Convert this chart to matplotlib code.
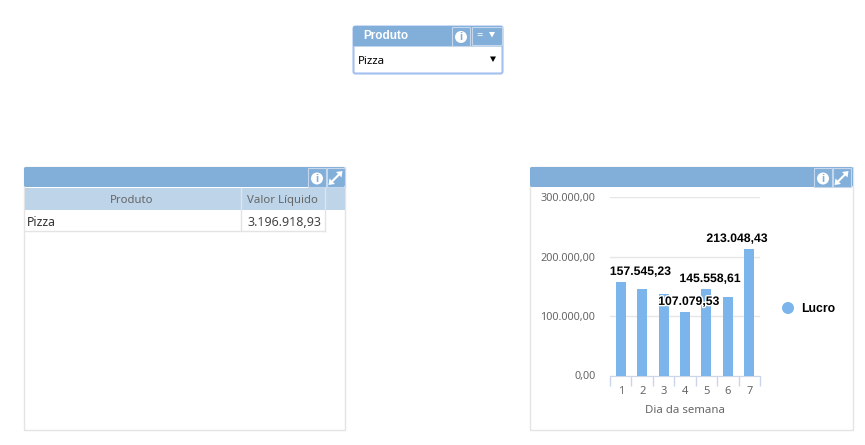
import matplotlib
matplotlib.use("Agg")
import matplotlib.pyplot as plt
import matplotlib.patheffects as pe
from matplotlib.patches import Rectangle, FancyBboxPatch, Circle, Polygon

plt.rcParams['font.family'] = ['Noto Sans', 'DejaVu Sans']
BOLD = ['Liberation Sans', 'DejaVu Sans']

W, H = 865, 445

# chart data
dias = ["1", "2", "3", "4", "5", "6", "7"]
lucro = [157545.23, 146000, 137500, 107079.53, 145558.61, 132500, 213048.43]
rotulos = ["157.545,23", None, None, "107.079,53", "145.558,61", None, "213.048,43"]
y_ticks = [0, 100000, 200000, 300000]
y_labels = ["0,00", "100.000,00", "200.000,00", "300.000,00"]

# table / filter text
tabela_cols = ["Produto", "Valor Líquido"]
tabela_linha = ["Pizza", "3.196.918,93"]
filtro_titulo = "Produto"
filtro_valor = "Pizza"
serie = "Lucro"

AZUL = "#82aeda"
AZUL_TAB = "#bdd4e9"
BARRA = "#7cb5ec"
BORDA = "#e4e4e4"
CINZA = "#666666"

fig = plt.figure(figsize=(W / 100, H / 100), dpi=100, facecolor="white")

# page layer in pixel coords
bg = fig.add_axes([0, 0, 1, 1])
bg.set_xlim(0, W)
bg.set_ylim(H, 0)
bg.axis("off")


def info_btn(x, y):
    bg.add_patch(Rectangle((x, y), 18, 19, fc="none", ec="#c4d7ec", lw=0.8))
    bg.add_patch(Circle((x + 9, y + 10.5), 6, fc="white", ec="none"))
    bg.text(x + 9, y + 10.5, "i", color=AZUL, fontsize=8, fontweight="bold",
            family=BOLD, ha="center", va="center")


def expand_btn(x, y):
    bg.add_patch(Rectangle((x, y), 18, 19, fc="none", ec="#c4d7ec", lw=0.8))
    bg.plot([x + 6, x + 12], [y + 13, y + 7], color="white", lw=1.5)
    bg.add_patch(Polygon([[x + 16, y + 3], [x + 9.5, y + 4], [x + 15, y + 9.5]], fc="white", ec="none"))
    bg.add_patch(Polygon([[x + 2, y + 17], [x + 3, y + 10.5], [x + 8.5, y + 16]], fc="white", ec="none"))


def painel(x0, x1, bx):
    bg.add_patch(Rectangle((x0, 167), x1 - x0, 263, fc="white", ec=BORDA, lw=1))
    bg.add_patch(FancyBboxPatch((x0 + 1, 168), x1 - x0 - 2, 18,
                                boxstyle="round,pad=1,rounding_size=2",
                                fc=AZUL, ec="none"))
    info_btn(bx, 168)
    expand_btn(bx + 18.5, 168)


painel(24, 345, 308)
painel(530, 853, 814)

# table
bg.add_patch(Rectangle((25, 188), 320, 22, fc=AZUL_TAB, ec="none"))
bg.plot([240.5, 240.5], [188, 231], color="#e4e4e4", lw=1)
bg.plot([324.5, 324.5], [188, 231], color="#e4e4e4", lw=1)
bg.plot([25, 324.5], [231, 231], color="#e4e4e4", lw=1)
bg.text(131.5, 200.5, tabela_cols[0], color=CINZA, fontsize=8.2, ha="center", va="center")
bg.text(282, 200.5, tabela_cols[1], color=CINZA, fontsize=8.2, ha="center", va="center")
bg.text(27, 222, tabela_linha[0], color="#333333", fontsize=8.8, va="center")
bg.text(322, 222, tabela_linha[1], color="#444444", fontsize=9, ha="right", va="center")

# filter box
bg.add_patch(FancyBboxPatch((354, 27), 148, 46, boxstyle="round,pad=0.5,rounding_size=2",
                            fc="white", ec="#a3c0f0", lw=1.5))
bg.add_patch(FancyBboxPatch((354, 27), 148, 18.5, boxstyle="round,pad=1,rounding_size=2",
                            fc=AZUL, ec="none"))
bg.text(363.5, 36, filtro_titulo, color="white", fontsize=8.5, fontweight="bold", family=BOLD,
        va="center")
bg.add_patch(Rectangle((452, 27), 18, 18.5, fc="none", ec="#c4d7ec", lw=0.8))
bg.add_patch(Circle((461, 37), 6, fc="white", ec="none"))
bg.text(461, 37, "i", color=AZUL, fontsize=8, fontweight="bold", family=BOLD, ha="center", va="center")
bg.add_patch(Rectangle((471.5, 27), 30, 18, fc="none", ec="#c4d7ec", lw=0.8))
bg.text(480, 35.5, "=", color="white", fontsize=8, ha="center", va="center")
bg.add_patch(Polygon([[489, 32], [495, 32], [492, 37.5]], fc="white", ec="none"))
bg.text(358, 61.5, filtro_valor, color="black", fontsize=8.2, va="center")
bg.add_patch(Polygon([[490, 56.5], [496, 56.5], [493, 62]], fc="black", ec="none"))

# column chart
ax = fig.add_axes([610 / W, 1 - 375.5 / H, 150 / W, 178.2 / H])
ax.patch.set_alpha(0)
pos = list(range(len(dias)))
ax.bar(pos, lucro, width=0.47, color=BARRA, zorder=3)
ax.set_xlim(-0.5, len(dias) - 0.5)
ax.set_ylim(0, 300000)
ax.set_yticks(y_ticks, y_labels, color=CINZA, fontsize=7.8)
ax.set_xticks(pos, dias, color=CINZA, fontsize=8)
ax.tick_params(axis="y", length=0, pad=10.5)
ax.tick_params(axis="x", length=0, pad=7.5)
ax.set_xticks([p - 0.5 for p in pos] + [len(dias) - 0.5], minor=True)
ax.tick_params(axis="x", which="minor", length=7, width=1, color="#ccd6eb")
ax.grid(axis="y", color="#e6e6e6", lw=1, zorder=0)
for s in ["top", "left", "right"]:
    ax.spines[s].set_visible(False)
ax.spines["bottom"].set_color("#ccd6eb")
ax.set_xlabel("Dia da semana", color=CINZA, fontsize=8.2, labelpad=5.5)

desloc = [20, 0, 0, 4, 4, 0, -12]
for p, v, r, d in zip(pos, lucro, rotulos, desloc):
    if r is None:
        continue
    ax.annotate(r, (p, v), xytext=(d, 10), textcoords="offset pixels", ha="center",
                va="center", fontsize=8.8, fontweight="bold", family=BOLD, color="black", zorder=5,
                path_effects=[pe.withStroke(linewidth=2, foreground="white")])

# legend
bg.add_patch(Circle((788, 308), 6, fc=BARRA, ec="none"))
bg.text(801, 308.5, serie, color="black", fontsize=8.8, fontweight="bold", family=BOLD, va="center")

fig.savefig("out.png", dpi=100)
